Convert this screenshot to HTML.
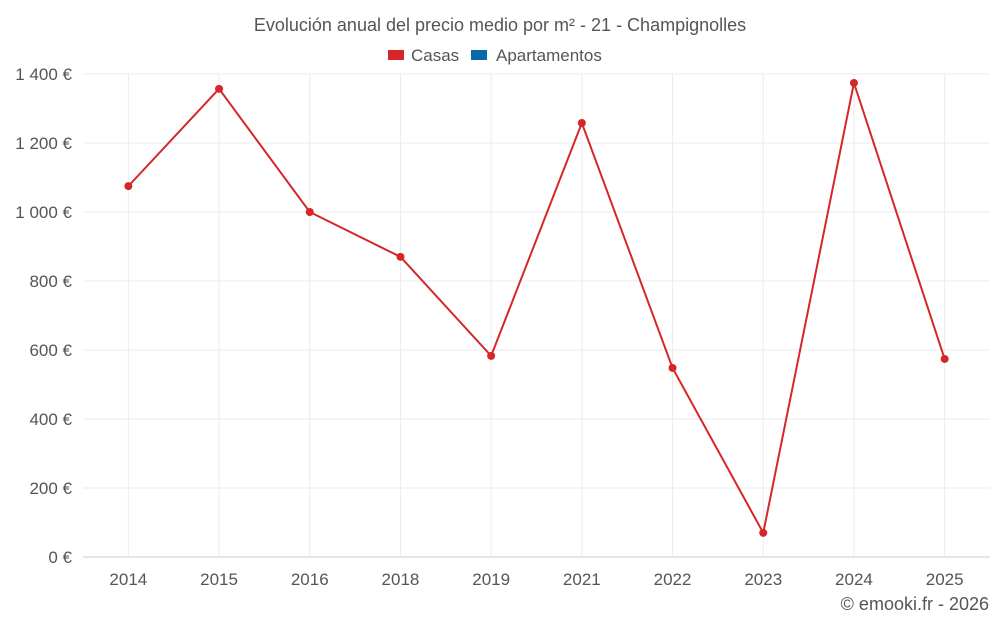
<!DOCTYPE html>
<html><head><meta charset="utf-8"><style>
body{margin:0;background:#fff;font-family:"Liberation Sans",sans-serif;}
svg text{font-family:"Liberation Sans",sans-serif;fill:#555;}
</style></head><body>
<svg id="chart" width="1000" height="625" viewBox="0 0 1000 625">
<text x="500" y="31" text-anchor="middle" font-size="18">Evolución anual del precio medio por m² - 21 - Champignolles</text>
<g>
<rect x="388" y="50" width="16" height="10" fill="#d62728"/>
<text x="411" y="61" font-size="17">Casas</text>
<rect x="471" y="50" width="16" height="10" fill="#0868ac"/>
<text x="496" y="61" font-size="17">Apartamentos</text>
</g>
<g id="grid"></g><g id="axes"></g><g id="series"></g>
<text x="989" y="610" text-anchor="end" font-size="18">© emooki.fr - 2026</text>
</svg>
<script>
const categories=["2014","2015","2016","2018","2019","2021","2022","2023","2024","2025"];
const casas=[1075,1357,1000,870,583,1258,548,70,1374,574];
const yTicks=[0,200,400,600,800,1000,1200,1400];
const yLabels=["0 €","200 €","400 €","600 €","800 €","1 000 €","1 200 €","1 400 €"];
const L=83,R=990,T=74,B=557,yMax=1400;
const NS="http://www.w3.org/2000/svg";
const bw=(R-L)/categories.length;
const x=i=>L+bw*(i+0.5);
const y=v=>B-(v/yMax)*(B-T);
function mk(t,a,p){const e=document.createElementNS(NS,t);for(const k in a)e.setAttribute(k,a[k]);p.appendChild(e);return e;}
const g=document.getElementById('grid'),ax=document.getElementById('axes'),s=document.getElementById('series');
yTicks.forEach((v,i)=>{
 const l=mk('line',{x1:L,x2:R,y1:y(v),y2:y(v),stroke:v===0?'#ccc':'#ebebeb'},g);
 
 
 const t=mk('text',{x:L-11,y:y(v)+6,'text-anchor':'end','font-size':17},ax);
 t.textContent=yLabels[i];
 
 
});
categories.forEach((c,i)=>{
 const l=mk('line',{x1:x(i),x2:x(i),y1:T,y2:B,stroke:'#ebebeb'},g);
 
 
 const t=mk('text',{x:x(i),y:585,'text-anchor':'middle','font-size':17},ax);
 t.textContent=c;
 
 
});
const p=mk('polyline',{points:casas.map((v,i)=>x(i)+','+y(v)).join(' '),fill:'none',stroke:'#d62728','stroke-width':2},s);


casas.forEach((v,i)=>{
 const c=mk('circle',{cx:x(i),cy:y(v),r:4,fill:'#d62728'},s);
 
 
});
</script>
</body></html>
